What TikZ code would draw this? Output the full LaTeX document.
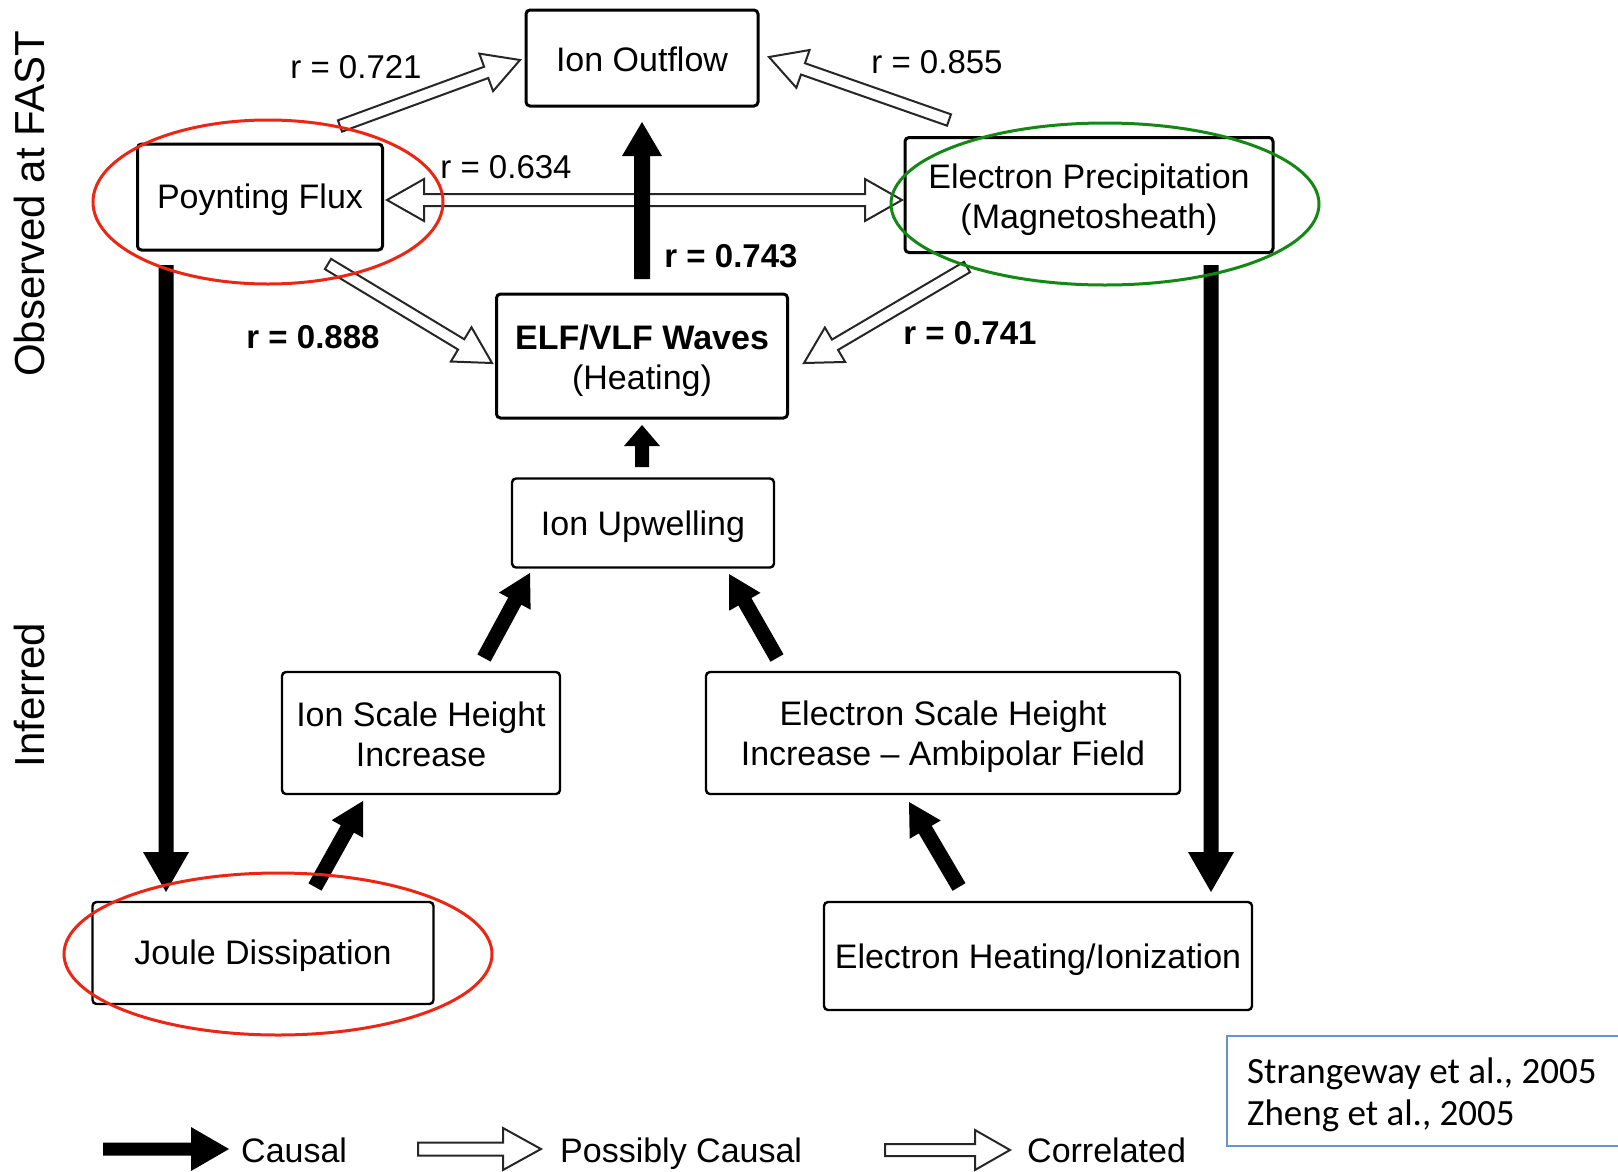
\documentclass[tikz,border=0pt]{standalone}
\usepackage{fontspec}
\setmainfont{Liberation Sans}
\newfontfamily\citefont{Carlito}
\usetikzlibrary{calc}
\newcommand\boxfont{\fontsize{34}{40}\selectfont}
\newcommand\lblfont{\fontsize{33}{38}\selectfont}
\newcommand\sidefont{\fontsize{42}{46}\selectfont}
\newcommand\myarrow[6]{%
  \coordinate (hb) at ($(#3)!#6!(#2)$);
  \path[#1] ($(#2)!#4!90:(#3)$) -- ($(hb)!#4!90:(#3)$) -- ($(hb)!#5!90:(#3)$) -- (#3)
    -- ($(hb)!#5!-90:(#3)$) -- ($(hb)!#4!-90:(#3)$) -- ($(#2)!#4!-90:(#3)$) -- cycle;}
\newcommand\mydarrow[6]{%
  \coordinate (hbb) at ($(#3)!#6!(#2)$);
  \coordinate (hba) at ($(#2)!#6!(#3)$);
  \path[#1] (#2) -- ($(hba)!#5!90:(#3)$) -- ($(hba)!#4!90:(#3)$) -- ($(hbb)!#4!90:(#3)$)
    -- ($(hbb)!#5!90:(#3)$) -- (#3) -- ($(hbb)!#5!-90:(#3)$) -- ($(hbb)!#4!-90:(#3)$)
    -- ($(hba)!#4!-90:(#3)$) -- ($(hba)!#5!-90:(#3)$) -- cycle;}
\definecolor{ellred}{RGB}{236,38,20}
\definecolor{ellgreen}{RGB}{20,135,20}
\definecolor{citeblue}{RGB}{100,150,205}
\begin{document}
\begin{tikzpicture}[x=1pt,y=-1pt,
  box/.style={draw, line width=3pt, rounded corners=4pt, inner sep=0pt},
  ibox/.style={draw, line width=2.4pt, rounded corners=4pt, inner sep=0pt},
  txt/.style={align=center, inner sep=0pt, font=\boxfont},
  lbl/.style={inner sep=0pt, font=\lblfont},
  causal/.style={fill=black},
  hollow/.style={draw=black!85, line width=2pt, fill=white, line join=miter},
  ell/.style={line width=3pt}]
\useasboundingbox (0,0) rectangle (1618,1171);
% boxes
\node[box, minimum width=232pt, minimum height=96pt] (io) at (642,58) {};
\node[box, minimum width=245pt, minimum height=106pt] (pf) at (260,197) {};
\node[box, minimum width=368pt, minimum height=115pt] (ep) at (1089,195) {};
\node[box, minimum width=291pt, minimum height=124pt] (elf) at (642,356) {};
\node[ibox, minimum width=262pt, minimum height=89pt] (iu) at (643,523) {};
\node[ibox, minimum width=278pt, minimum height=122pt] (ish) at (421,733) {};
\node[ibox, minimum width=474pt, minimum height=122pt] (esh) at (943,733) {};
\node[ibox, minimum width=341pt, minimum height=102pt] (jd) at (263,953) {};
\node[ibox, minimum width=428pt, minimum height=108pt] (eh) at (1038,956) {};
% box texts
\node[txt] (io-t) at ($(io)+(0,1)$) {Ion Outflow};
\node[txt] (pf-t) at ($(pf)+(0,3)$) {Poynting Flux};
\node[txt] (ep-t) at ($(ep)+(0,5)$) {Electron Precipitation\\(Magnetosheath)};
\node[txt] (elf-t) at ($(elf)+(0,5)$) {\textbf{ELF/VLF Waves}\\(Heating)};
\node[txt] (iu-t) at ($(iu)+(0,4)$) {Ion Upwelling};
\node[txt] (ish-t) at ($(ish)+(0,1)$) {Ion Scale Height\\Increase};
\node[txt] (esh-t) at ($(esh)+(0,4)$) {Electron Scale Height\\Increase -- Ambipolar Field};
\node[txt] (jd-t) at ($(jd)+(0,3)$) {Joule Dissipation};
\node[txt] (eh-t) at ($(eh)+(0,4)$) {Electron Heating/Ionization};
% side labels
\node[rotate=90, inner sep=0pt, font=\sidefont] (obs) at (29,204) {Observed at FAST};
\node[rotate=90, inner sep=0pt, font=\sidefont] (inf) at (29,695) {Inferred};
% connector end points
\coordinate (o1s) at (340,126); \coordinate (o1t) at (520,60);
\coordinate (o2s) at (949,120); \coordinate (o2t) at (769,57);
\coordinate (o3s) at (328,264); \coordinate (o3t) at (492,363);
\coordinate (o4s) at (967,267); \coordinate (o4t) at (804,363);
\coordinate (dpa) at (387,200); \coordinate (dpb) at (902,200);
\coordinate (e1s) at (642,279); \coordinate (e1t) at (642,122);
\coordinate (e2s) at (642,467); \coordinate (e2t) at (642,425);
\coordinate (e3s) at (166,265); \coordinate (e3t) at (166,892);
\coordinate (e4s) at (1211,265); \coordinate (e4t) at (1211,892);
\coordinate (e5s) at (315,887); \coordinate (e5t) at (363,801);
\coordinate (e6s) at (484,658); \coordinate (e6t) at (530,573);
\coordinate (e7s) at (777,658); \coordinate (e7t) at (729,574);
\coordinate (e8s) at (959,887); \coordinate (e8t) at (909,802);
% open arrows
\myarrow{hollow}{o1s}{o1t}{6pt}{20pt}{36pt}
\myarrow{hollow}{o2s}{o2t}{6pt}{20pt}{36pt}
\myarrow{hollow}{o3s}{o3t}{6pt}{20pt}{36pt}
\myarrow{hollow}{o4s}{o4t}{6pt}{20pt}{36pt}
\mydarrow{hollow}{dpa}{dpb}{6pt}{21pt}{37pt}
% causal arrows
\myarrow{causal}{e1s}{e1t}{8pt}{20pt}{34pt}
\myarrow{causal}{e2s}{e2t}{7pt}{18pt}{21pt}
\myarrow{causal}{e3s}{e3t}{7.5pt}{23pt}{40pt}
\myarrow{causal}{e4s}{e4t}{7.5pt}{23pt}{40pt}
\myarrow{causal}{e5s}{e5t}{7.5pt}{18pt}{32pt}
\myarrow{causal}{e6s}{e6t}{7.5pt}{18pt}{32pt}
\myarrow{causal}{e7s}{e7t}{7.5pt}{18pt}{32pt}
\myarrow{causal}{e8s}{e8t}{7.5pt}{18pt}{32pt}
% correlation labels
\node[lbl] (r1) at (356,67) {r = 0.721};
\node[lbl] (r2) at (937,62) {r = 0.855};
\node[lbl] (r3) at (506,167) {r = 0.634};
\node[lbl] (r4) at (731,256) {\textbf{r = 0.743}};
\node[lbl] (r5) at (313,337) {\textbf{r = 0.888}};
\node[lbl] (r6) at (970,333) {\textbf{r = 0.741}};
% highlight ellipses
\draw[ell, ellred] (268,202) ellipse [x radius=175pt, y radius=82pt];
\draw[ell, ellgreen] (1105,204) ellipse [x radius=214pt, y radius=81pt];
\draw[ell, ellred] (278,954) ellipse [x radius=214pt, y radius=81pt];
% legend
\coordinate (l1s) at (103,1149); \coordinate (l1t) at (229,1149);
\coordinate (l2s) at (418,1149); \coordinate (l2t) at (541,1149);
\coordinate (l3s) at (885,1150); \coordinate (l3t) at (1010,1150);
\myarrow{causal}{l1s}{l1t}{6.5pt}{22pt}{38pt}
\myarrow{hollow}{l2s}{l2t}{6.5pt}{21pt}{38pt}
\myarrow{hollow}{l3s}{l3t}{6pt}{20pt}{35pt}
\node[anchor=base west, inner sep=0pt, font=\boxfont] (lg1) at (241,1162) {Causal};
\node[anchor=base west, inner sep=0pt, font=\boxfont] (lg2) at (560,1162) {Possibly Causal};
\node[anchor=base west, inner sep=0pt, font=\boxfont] (lg3) at (1027,1162) {Correlated};
% citation
\draw[citeblue, line width=2pt] (1227,1036) rectangle (1640,1146);
\node[anchor=base west, inner sep=0pt, font=\citefont\fontsize{37}{42}\selectfont] (c1) at (1247,1083) {Strangeway et al., 2005};
\node[anchor=base west, inner sep=0pt, font=\citefont\fontsize{37}{42}\selectfont] (c2) at (1247,1125) {Zheng et al., 2005};
\end{tikzpicture}
\end{document}
